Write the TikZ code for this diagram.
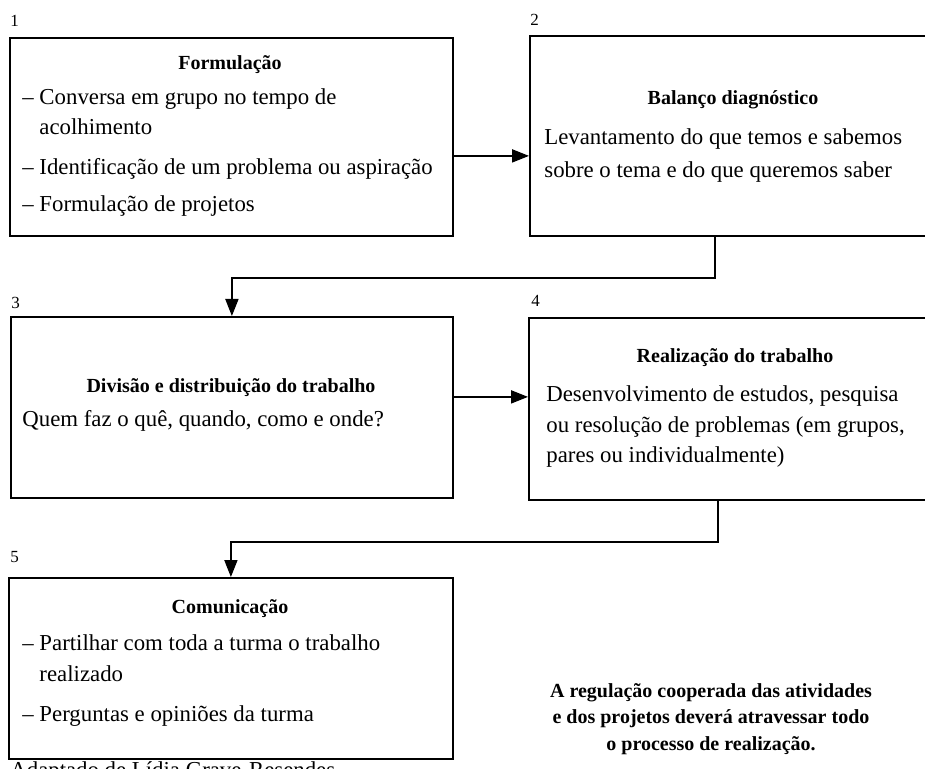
\documentclass[tikz,border=0pt]{standalone}
\usepackage{fontspec}
\setmainfont{Liberation Serif}
\usetikzlibrary{arrows.meta}
\tikzset{
 box/.style={draw=black, line width=0.9pt, rectangle, inner sep=0pt, anchor=north west},
 ttl/.style={font=\fontsize{10}{12}\selectfont\bfseries, inner sep=0pt},
 txt/.style={font=\fontsize{11.4}{14}\selectfont, inner sep=0pt, anchor=mid west},
 num/.style={font=\fontsize{8.5}{10}\selectfont, inner sep=0pt, anchor=mid west},
 arr/.style={line width=0.9pt, -{Triangle[length=8.5pt,width=6.5pt]}},
 note/.style={font=\fontsize{10}{13.25}\selectfont\bfseries, align=center, inner sep=0pt}
}
\begin{document}
\begin{tikzpicture}[x=0.5pt,y=-0.5pt]
\useasboundingbox (0,0) rectangle (925,769);
\clip (0,0) rectangle (925,769);
\fill[white] (0,0) rectangle (925,769);
% boxes
\node[box, minimum width=221.5pt, minimum height=99pt] (b1) at (9,37) {};
\node[box, minimum width=208pt, minimum height=100pt] (b2) at (529,35) {};
\node[box, minimum width=221pt, minimum height=90.5pt] (b3) at (10,316) {};
\node[box, minimum width=208.5pt, minimum height=91pt] (b4) at (528,317) {};
\node[box, minimum width=222pt, minimum height=90.5pt] (b5) at (8,577) {};
% numbers
\node[num] (n1) at (10,22) {1};
\node[num] (n2) at (530,21) {2};
\node[num] (n3) at (11,304) {3};
\node[num] (n4) at (531,302) {4};
\node[num] (n5) at (10,558) {5};
% box 1
\node[ttl] (t1) at (230,65) {Formulação};
\node[txt] (t1a) at (22,100) {– Conversa em grupo no tempo de};
\node[txt] (t1b) at (22,130) {\phantom{– }acolhimento};
\node[txt] (t1c) at (22,170) {– Identificação de um problema ou aspiração};
\node[txt] (t1d) at (22,207) {– Formulação de projetos};
% box 2
\node[ttl] (t2) at (733,100) {Balanço diagnóstico};
\node[txt] (t2a) at (544,140) {Levantamento do que temos e sabemos};
\node[txt] (t2b) at (544,173) {sobre o tema e do que queremos saber};
% box 3
\node[ttl] (t3) at (231,388) {Divisão e distribuição do trabalho};
\node[txt] (t3a) at (22,422) {Quem faz o quê, quando, como e onde?};
% box 4
\node[ttl] (t4) at (735,358) {Realização do trabalho};
\node[txt] (t4a) at (546,397) {Desenvolvimento de estudos, pesquisa};
\node[txt] (t4b) at (546,428) {ou resolução de problemas (em grupos,};
\node[txt] (t4c) at (546,458) {pares ou individualmente)};
% box 5
\node[ttl] (t5) at (230,609) {Comunicação};
\node[txt] (t5a) at (22,646) {– Partilhar com toda a turma o trabalho};
\node[txt] (t5b) at (22,677) {\phantom{– }realizado};
\node[txt] (t5c) at (22,717) {– Perguntas e opiniões da turma};
% note
\node[note] (nt) at (711,719) {A regulação cooperada das atividades\\e dos projetos deverá atravessar todo\\o processo de realização.};
% caption (cut off at the lower edge, as in the source)
\node[font=\fontsize{11.4}{14}\selectfont, inner sep=0pt, anchor=base west] (cap) at (10,777) {Adaptado de Lídia Grave-Resendes};
% connectors
\draw[arr] ([yshift=-9.5pt]b1.east) -- ([yshift=-9.5pt]b1.east -| b2.west);
\draw[arr] ([yshift=5.25pt]b3.east) -- ([yshift=5.25pt]b3.east -| b4.west);
\draw[arr] ([xshift=-11.5pt]b2.south) -- ++(0,-20.5pt) -| (b3.north);
\draw[arr] ([xshift=-9.75pt]b4.south) -- ++(0,-20.5pt) -| (b5.north);
\end{tikzpicture}
\end{document}
